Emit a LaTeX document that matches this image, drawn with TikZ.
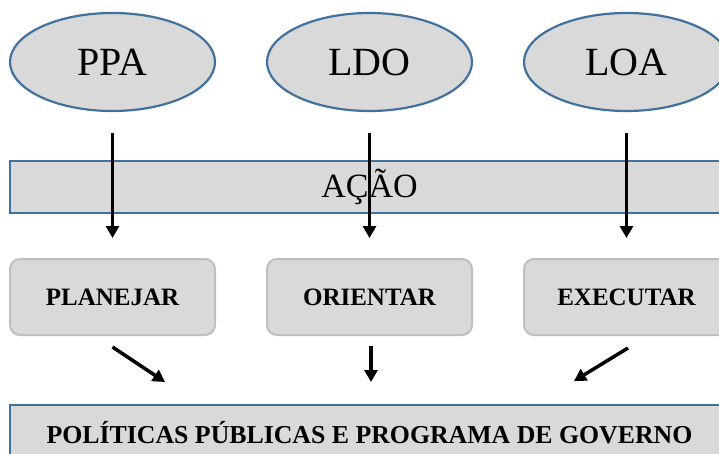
\documentclass[tikz,border=0pt]{standalone}
\usepackage{fontspec}
\setmainfont{Liberation Serif}
\usetikzlibrary{shapes.geometric,arrows.meta}
\definecolor{boxfill}{HTML}{D9D9D9}
\definecolor{edgeblue}{HTML}{41719C}
\definecolor{edgegray}{HTML}{BFBFBF}
\tikzset{
  oval/.style={ellipse, draw=edgeblue, fill=boxfill, line width=2.2pt, minimum width=205pt, minimum height=98pt, inner sep=0pt, font=\fontsize{40}{44}\selectfont},
  bar/.style={rectangle, draw=edgeblue, fill=boxfill, line width=2.2pt, minimum width=719pt, inner sep=0pt},
  stepbox/.style={rectangle, rounded corners=10pt, draw=edgegray, fill=boxfill, line width=2pt, minimum width=205pt, minimum height=76pt, inner sep=0pt, font=\bfseries\fontsize{25}{28}\selectfont},
  arr/.style={line width=3.5pt, -{Triangle[length=12pt,width=13pt]}},
}
\begin{document}
\begin{tikzpicture}[x=1pt,y=-1pt]
\useasboundingbox (0,0) rectangle (719,454);
\clip (0,0) rectangle (719,454);
\node[oval] (ppa) at (112.5,62) {PPA};
\node[oval] (ldo) at (369.5,62) {LDO};
\node[oval] (loa) at (626.5,62) {LOA};
\node[bar, minimum height=52pt, font=\fontsize{34}{36}\selectfont] (acao) at (369.5,187) {AÇÃO};
\node[stepbox] (plan) at (112.5,297) {PLANEJAR};
\node[stepbox] (orie) at (369.5,297) {ORIENTAR};
\node[stepbox] (exec) at (626.5,297) {EXECUTAR};
\node[bar, minimum height=56pt, font=\bfseries\fontsize{25.8}{28}\selectfont] (pol) at (369.5,433) {POLÍTICAS PÚBLICAS E PROGRAMA DE GOVERNO};
\draw[arr, shorten <=21pt, shorten >=20pt] (ppa) -- (plan);
\draw[arr, shorten <=21pt, shorten >=20pt] (ldo) -- (orie);
\draw[arr, shorten <=21pt, shorten >=20pt] (loa) -- (exec);
\coordinate (t1) at (165,382);
\coordinate (t2) at (371,382);
\coordinate (t3) at (574,381);
\draw[arr] ([yshift=-11pt]plan.south) -- (t1);
\draw[arr] ([xshift=1.5pt,yshift=-10pt]orie.south) -- (t2);
\draw[arr] ([xshift=1.5pt,yshift=-12pt]exec.south) -- (t3);
\end{tikzpicture}
\end{document}
